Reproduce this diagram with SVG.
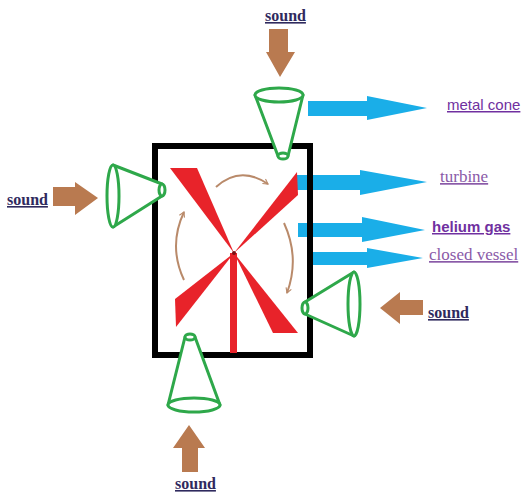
<svg xmlns="http://www.w3.org/2000/svg" width="523" height="496" viewBox="0 0 523 496">
  <defs>
    <style>
      .cone { fill: #ffffff; stroke: #2ea84a; stroke-width: 3; stroke-linejoin: round; }
      .push { fill: #b97a50; }
      .flow { fill: #1aaee8; }
      .blade { fill: #e8232a; }
      .spin { fill: none; stroke: #b98a6a; stroke-width: 2; marker-end: url(#spinHead); }
      .sound { font-family: "Liberation Serif", "Times New Roman", serif; font-weight: bold; font-size: 16px; fill: #2f2a5e; text-decoration: underline; }
      .lbl-sans { font-family: "Liberation Sans", Arial, sans-serif; fill: #7030a0; text-decoration: underline; }
      .lbl-serif { font-family: "Liberation Serif", "Times New Roman", serif; fill: #8a5aa8; text-decoration: underline; font-size: 17px; }
    </style>
    <marker id="spinHead" viewBox="0 0 10 10" refX="8" refY="5" markerWidth="7" markerHeight="7" orient="auto" markerUnits="userSpaceOnUse">
      <path d="M1,1 L8,5 L1,9" fill="none" stroke="#b98a6a" stroke-width="1.6"/>
    </marker>
  </defs>

  <rect width="523" height="496" fill="#ffffff"/>

  <!-- outgoing blue arrows (drawn under the vessel wall) -->
  <g id="connectors">
    <polygon class="flow" points="308,101 367,101 367,96 427,108 367,120 367,116 308,116"/>
    <polygon class="flow" points="297,175 360,175 360,170 427,182 360,195 360,190 297,190"/>
    <polygon class="flow" points="298,223 362,223 362,217 425,230 362,242 362,237 298,237"/>
    <polygon class="flow" points="313,252 367,252 367,248 423,258 367,268 367,265 313,265"/>

    <!-- brown sound arrows -->
    <polygon class="push" points="269,29 288,29 288,52 295,52 280,77 266,52 269,52"/>
    <polygon class="push" points="53,187 75,187 75,182 98,198 75,215 75,206 53,206"/>
    <polygon class="push" points="423,300 400,300 400,292 380,308 400,324 400,315 423,315"/>
    <polygon class="push" points="182,472 182,448 173,448 189,425 205,448 198,448 198,472"/>
  </g>

  <!-- closed vessel -->
  <g id="vessel">
    <rect x="155" y="146" width="155" height="209" fill="none" stroke="#000000" stroke-width="6"/>
  </g>

  <!-- turbine rotor -->
  <g id="turbine">
    <polygon class="blade" points="170,168 197,168 234,253"/>
    <polygon class="blade" points="297,172 298,195 234,253"/>
    <polygon class="blade" points="175,299 176,327 234,253"/>
    <polygon class="blade" points="273,333 298,333 234,253"/>
    <rect class="blade" x="230" y="253" width="7" height="100"/>
    <circle cx="234" cy="253" r="2" fill="#7a1014"/>
    <path class="spin" d="M216,187 Q240,165 268,184"/>
    <path class="spin" d="M184,280 Q168,246 184,212"/>
    <path class="spin" d="M284,223 Q300,258 287,293"/>
  </g>

  <!-- metal cones -->
  <g id="cone-top">
    <path class="cone" d="M255,95 L278,156 L288,156 L303,95 Z"/>
    <ellipse class="cone" cx="279" cy="95" rx="24" ry="7"/>
    <ellipse class="cone" cx="283" cy="156" rx="5" ry="3"/>
  </g>
  <g id="cone-left">
    <path class="cone" d="M113,165 L162,184 L162,196 L113,227 Z"/>
    <ellipse class="cone" cx="113" cy="196" rx="6" ry="31"/>
    <ellipse class="cone" cx="162" cy="190" rx="3" ry="6"/>
  </g>
  <g id="cone-right">
    <path class="cone" d="M354,272 L305,302 L305,314 L354,336 Z"/>
    <ellipse class="cone" cx="354" cy="304" rx="6" ry="32"/>
    <ellipse class="cone" cx="305" cy="308" rx="3" ry="6"/>
  </g>
  <g id="cone-bottom">
    <path class="cone" d="M185,337 L168,405 L220,405 L195,337 Z"/>
    <ellipse class="cone" cx="194" cy="405" rx="26" ry="7"/>
    <ellipse class="cone" cx="190" cy="337" rx="5" ry="3"/>
  </g>

  <!-- labels -->
  <g id="labels">
    <text class="sound" x="265" y="21">sound</text>
    <text class="sound" x="7" y="205">sound</text>
    <text class="sound" x="428" y="318">sound</text>
    <text class="sound" x="175" y="489">sound</text>
    <text class="lbl-sans" x="447" y="110" font-size="15">metal cone</text>
    <text class="lbl-serif" x="440" y="182">turbine</text>
    <text class="lbl-sans" x="432" y="232" font-size="15" font-weight="bold">helium gas</text>
    <text class="lbl-serif" x="429" y="260">closed vessel</text>
  </g>
</svg>
